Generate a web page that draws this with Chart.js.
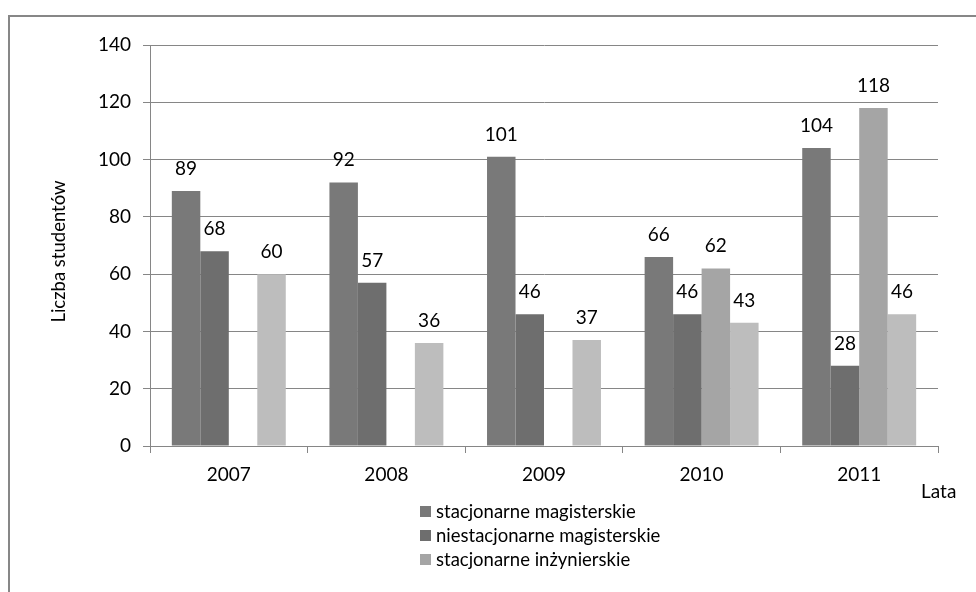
<!DOCTYPE html>
<html>
<head>
<meta charset="utf-8">
<script src="https://cdn.jsdelivr.net/npm/chart.js@4"></script>
<style>
  html, body { margin: 0; padding: 0; background: #fff; }
  #wrap { width: 976px; height: 592px; position: relative; }
</style>
</head>
<body>
<div id="wrap"><canvas id="c" width="976" height="592"></canvas></div>
<script>
// Liczba studentów według rodzaju studiów, lata 2007–2011
const years = ['2007', '2008', '2009', '2010', '2011'];
const stacjonarneMagisterskie = [89, 92, 101, 66, 104];
const niestacjonarneMagisterskie = [68, 57, 46, 46, 28];
const stacjonarneInzynierskie = [null, null, null, 62, 118];
const niestacjonarneInzynierskie = [60, 36, 37, 43, 46];
const yTicks = [0, 20, 40, 60, 80, 100, 120, 140];

const FONT = 'Lato, "Open Sans", sans-serif';
const AXIS_GREY = '#868686';

const seriesNames = [
  'stacjonarne magisterskie',
  'niestacjonarne magisterskie',
  'stacjonarne inżynierskie',
  'niestacjonarne inżynierskie'
];
const seriesColors = ['#797979', '#6e6e6e', '#a5a5a5', '#bdbdbd'];
const seriesInLegend = [true, true, true, false];

const seriesData = [
  stacjonarneMagisterskie,
  niestacjonarneMagisterskie,
  stacjonarneInzynierskie,
  niestacjonarneInzynierskie
];

const datasets = seriesData.map((d, i) => ({
  label: seriesNames[i],
  data: d,
  backgroundColor: seriesColors[i],
  borderWidth: 0,
  inLegend: seriesInLegend[i]
}));

// Frame, value labels, axis titles and the vertical legend
const decorations = {
  id: 'decorations',
  beforeDraw(chart) {
    const ctx = chart.ctx;
    ctx.save();
    ctx.fillStyle = '#fff';
    ctx.fillRect(0, 0, chart.width, chart.height);
    ctx.strokeStyle = '#878787';
    ctx.lineWidth = 2;
    ctx.beginPath();
    ctx.moveTo(9, chart.height);
    ctx.lineTo(9, 16);
    ctx.lineTo(chart.width, 16);
    ctx.stroke();
    ctx.restore();
  },
  afterDatasetsDraw(chart) {
    const ctx = chart.ctx;
    ctx.save();
    ctx.font = '19px ' + FONT;
    ctx.fillStyle = '#000';
    ctx.textAlign = 'center';
    ctx.textBaseline = 'alphabetic';
    chart.data.datasets.forEach((ds, di) => {
      const meta = chart.getDatasetMeta(di);
      meta.data.forEach((el, i) => {
        const v = ds.data[i];
        if (v === null || v === undefined) return;
        ctx.fillText(String(v), el.x, el.y - 16);
      });
    });
    ctx.restore();
  },
  afterDraw(chart) {
    const ctx = chart.ctx;
    const area = chart.chartArea;
    ctx.save();
    ctx.fillStyle = '#000';

    // y axis title
    ctx.font = '18.5px ' + FONT;
    ctx.translate(59, (area.top + area.bottom) / 2 + 6);
    ctx.rotate(-Math.PI / 2);
    ctx.textAlign = 'center';
    ctx.textBaseline = 'middle';
    ctx.fillText('Liczba studentów', 0, 0);
    ctx.setTransform(1, 0, 0, 1, 0, 0);

    // x axis title
    ctx.font = '19px ' + FONT;
    ctx.textAlign = 'left';
    ctx.textBaseline = 'middle';
    ctx.fillText('Lata', 921, 492);

    // legend
    ctx.font = '18.5px ' + FONT;
    let y = 512;
    chart.data.datasets.forEach(ds => {
      if (!ds.inLegend) return;
      ctx.fillStyle = ds.backgroundColor;
      ctx.fillRect(420, y - 6, 11, 11);
      ctx.fillStyle = '#000';
      ctx.fillText(ds.label, 436, y);
      y += 24;
    });
    ctx.restore();
  }
};

new Chart(document.getElementById('c'), {
  type: 'bar',
  data: { labels: years, datasets },
  options: {
    responsive: false,
    animation: false,
    devicePixelRatio: 1,
    layout: { padding: { left: 0, top: 45, right: 38, bottom: 0 } },
    datasets: {
      bar: { categoryPercentage: 0.723, barPercentage: 1.0 }
    },
    plugins: {
      legend: { display: false },
      tooltip: { enabled: false },
      title: { display: false }
    },
    scales: {
      x: {
        afterFit(s) { s.height = 146; },
        grid: {
          offset: true,
          drawOnChartArea: false,
          color: AXIS_GREY,
          tickLength: 7
        },
        border: { display: true, color: AXIS_GREY, width: 1 },
        ticks: {
          color: '#000',
          font: { family: FONT, size: 19 },
          padding: 10
        }
      },
      y: {
        min: 0,
        max: 140,
        afterFit(s) { s.width = 150; },
        afterBuildTicks(s) { s.ticks = yTicks.map(v => ({ value: v })); },
        grid: {
          color: AXIS_GREY,
          lineWidth: 1,
          tickLength: 7
        },
        border: { display: true, color: AXIS_GREY, width: 1 },
        ticks: {
          color: '#000',
          font: { family: FONT, size: 19 },
          padding: 12
        }
      }
    }
  },
  plugins: [decorations]
});
</script>
</body>
</html>
